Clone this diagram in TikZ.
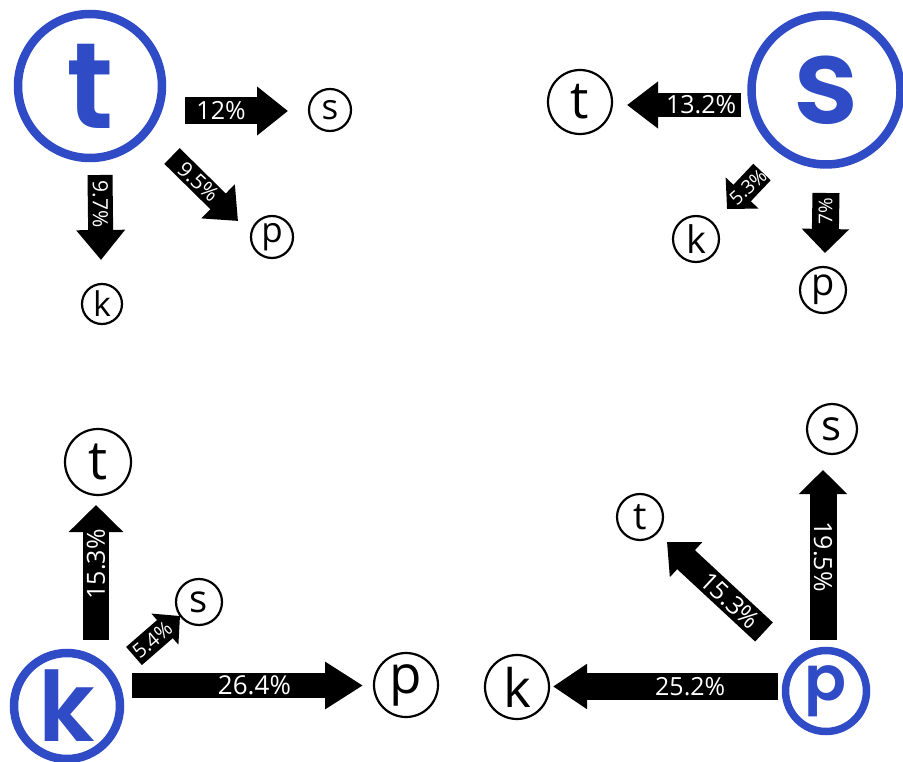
\documentclass[tikz,border=0pt]{standalone}
\usepackage{fontspec}
\setmainfont{Open Sans}
\newfontfamily\bigfont{Poppins SemiBold}
\usetikzlibrary{arrows.meta}
\definecolor{ublue}{RGB}{47,75,198}
\tikzset{
  bigc/.style={circle, draw=ublue, line width=8.5pt, text=ublue, inner sep=0pt},
  smallc/.style={circle, draw=black, line width=2.2pt, inner sep=0pt},
  blk/.style n args={3}{draw=black, line width=#1, -{Triangle[length=#2, width=#3]}},
  lbl/.style={text=white, inner sep=0pt},
}
\newcommand{\fs}[1]{\fontsize{#1}{#1}\selectfont}
\begin{document}
\begin{tikzpicture}[x=1pt,y=-1pt]
\useasboundingbox (0,0) rectangle (903,762);
% big circles
\node[bigc, minimum size=144pt, font=\bigfont\fs{122}] (T) at (90,86) {t};
\node[bigc, minimum size=149pt, font=\bigfont\fs{120}] (S) at (826,90) {s};
\node[bigc, minimum size=106pt, font=\bigfont\fs{97}] (K) at (67,706) {k};
\node[bigc, minimum size=81pt, line width=7.5pt, font=\bigfont\fs{62}] (P) at (826,691) {p};
% small circles, t group
\node[smallc, minimum size=42pt, font=\fs{35}] (ts) at (330,110) {s};
\node[smallc, minimum size=42pt, font=\fs{35}] (tp) at (272,237) {p};
\node[smallc, minimum size=40pt, font=\fs{34}] (tk) at (102,304) {k};
% s group
\node[smallc, minimum size=64pt, font=\fs{52}] (st) at (580,102) {t};
\node[smallc, minimum size=46pt, font=\fs{38}] (sk) at (696,239) {k};
\node[smallc, minimum size=46pt, font=\fs{38}] (sp) at (823,290) {p};
% k group
\node[smallc, minimum size=66pt, font=\fs{54}] (kt) at (98,462) {t};
\node[smallc, minimum size=46pt, font=\fs{38}] (ks) at (199,602) {s};
\node[smallc, minimum size=64pt, font=\fs{53}] (kp) at (406,685) {p};
% p group
\node[smallc, minimum size=50pt, font=\fs{42}] (ps) at (832,429) {s};
\node[smallc, minimum size=46pt, font=\fs{38}] (pt) at (640,517) {t};
\node[smallc, minimum size=64pt, font=\fs{53}] (pk) at (517,687) {k};
% arrow end points
\coordinate (a1s) at (185,111);  \coordinate (a1e) at (288,111);
\coordinate (a2s) at (100,175);  \coordinate (a2e) at (101,260);
\coordinate (a3s) at (172,156);  \coordinate (a3e) at (238,221);
\coordinate (a4s) at (741,105);  \coordinate (a4e) at (627,105);
\coordinate (a5s) at (762,172);  \coordinate (a5e) at (727,209);
\coordinate (a6s) at (826,193);  \coordinate (a6e) at (825,253);
\coordinate (a7s) at (96,640);   \coordinate (a7e) at (96,505);
\coordinate (a8s) at (134,656);  \coordinate (a8e) at (180,616);
\coordinate (a9s) at (132,685.5);\coordinate (a9e) at (363,685.5);
\coordinate (a10s) at (823,640); \coordinate (a10e) at (823,470);
\coordinate (a11s) at (764,632); \coordinate (a11e) at (667,542);
\coordinate (a12s) at (778,686.5);\coordinate (a12e) at (553,686.5);
% arrows
\draw[blk={27pt}{31pt}{47pt}] (a1s) -- (a1e) node[lbl, pos=0.35, font=\fs{25}] (l1) {12\%};
\draw[blk={25pt}{30pt}{47pt}] (a2s) -- (a2e) node[lbl, pos=0.34, rotate=-90, font=\fs{21}] (l2) {9.7\%};
\draw[blk={22pt}{28pt}{46pt}] (a3s) -- (a3e) node[lbl, pos=0.4, rotate=-42, font=\fs{21}] (l3) {9.5\%};
\draw[blk={24pt}{31pt}{45pt}] (a4s) -- (a4e) node[lbl, pos=0.35, font=\fs{25}] (l4) {13.2\%};
\draw[blk={24pt}{22pt}{44pt}] (a5s) -- (a5e) node[lbl, pos=0.4, rotate=42, font=\fs{19}] (l5) {5.3\%};
\draw[blk={27pt}{24pt}{46pt}] (a6s) -- (a6e) node[lbl, pos=0.3, rotate=90, font=\fs{19}] (l6) {7\%};
\draw[blk={26pt}{27pt}{53pt}] (a7s) -- (a7e) node[lbl, pos=0.56, rotate=90, font=\fs{25}] (l7) {15.3\%};
\draw[blk={24pt}{20pt}{40pt}] (a8s) -- (a8e) node[lbl, pos=0.4, rotate=40, font=\fs{20}] (l8) {5.4\%};
\draw[blk={25pt}{38pt}{45pt}] (a9s) -- (a9e) node[lbl, pos=0.53, font=\fs{26}] (l9) {26.4\%};
\draw[blk={27pt}{24pt}{47pt}] (a10s) -- (a10e) node[lbl, pos=0.49, rotate=-90, font=\fs{25}] (l10) {19.5\%};
\draw[blk={26pt}{26pt}{46pt}] (a11s) -- (a11e) node[lbl, pos=0.35, rotate=-43, font=\fs{25}] (l11) {15.3\%};
\draw[blk={27pt}{34pt}{43pt}] (a12s) -- (a12e) node[lbl, pos=0.39, font=\fs{25}] (l12) {25.2\%};
\end{tikzpicture}
\end{document}
